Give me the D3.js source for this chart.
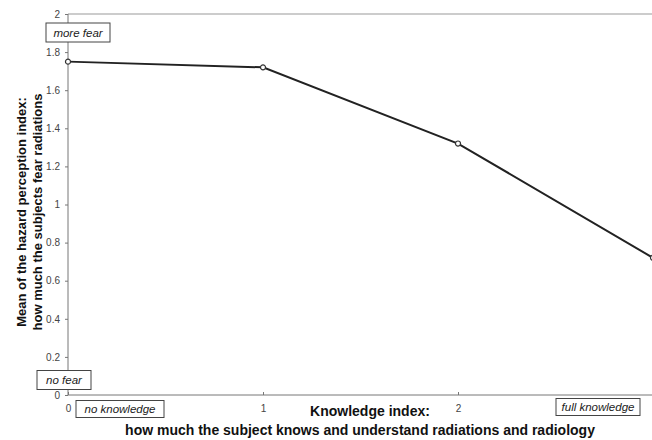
<!DOCTYPE html>
<html><head><meta charset="utf-8">
<script src="https://cdnjs.cloudflare.com/ajax/libs/d3/7.8.5/d3.min.js"></script>
<style>
body{margin:0;background:#fff;}
svg{display:block;font-family:"Liberation Sans",Arial,sans-serif;}
</style></head>
<body><svg id="c" width="652" height="440"></svg>
<script>
const knowledge = [0, 1, 2, 3];
const fearMean = [1.75, 1.72, 1.32, 0.72];
const yTicks = [0, 0.2, 0.4, 0.6, 0.8, 1, 1.2, 1.4, 1.6, 1.8, 2];
const xTicks = [0, 1, 2];
const yTitle = ["Mean of the hazard perception index:", "how much the subjects fear radiations"];
const xTitle = ["Knowledge index:", "how much the subject knows and understand radiations and radiology"];

const svg = d3.select("#c");
const x = d3.scaleLinear().domain([0, 3]).range([68, 653]);
const y = d3.scaleLinear().domain([0, 2]).range([395, 14]);

svg.append("line").attr("x1", 68).attr("x2", 652).attr("y1", y(2)).attr("y2", y(2))
  .attr("stroke", "#999").attr("stroke-width", 1);

const ya = svg.append("g").attr("transform", "translate(68,0)")
  .call(d3.axisLeft(y).tickValues(yTicks).tickSize(3).tickPadding(5).tickFormat(d3.format("~g")));
ya.select(".domain").attr("stroke", "#777").attr("d", `M0,${y(2)}V${y(0)}`);
ya.selectAll(".tick line").attr("stroke", "#777");
ya.selectAll(".tick text").attr("font-size", 10).attr("fill", "#444").attr("font-family", "Liberation Sans, Arial, sans-serif");

const xa = svg.append("g").attr("transform", `translate(0,${y(0)})`)
  .call(d3.axisBottom(x).tickValues(xTicks).tickSize(3).tickPadding(7).tickFormat(d3.format("d")));
xa.select(".domain").attr("stroke", "#777").attr("d", `M68,0H652`);
xa.selectAll(".tick line").attr("stroke", "#777").attr("y1", -3).attr("y2", 0);
xa.selectAll(".tick text").attr("font-size", 10).attr("fill", "#444").attr("font-family", "Liberation Sans, Arial, sans-serif");

const pts = knowledge.map((k, i) => [k, fearMean[i]]);
svg.append("path").datum(pts)
  .attr("d", d3.line().x(d => x(d[0])).y(d => y(d[1])))
  .attr("fill", "none").attr("stroke", "#222").attr("stroke-width", 2);
svg.selectAll("path.m").data(pts).join("path").attr("class", "m")
  .attr("transform", d => `translate(${x(d[0])},${y(d[1])})`)
  .attr("d", d3.symbol(d3.symbolCircle, 20))
  .attr("fill", "#fff").attr("stroke", "#333").attr("stroke-width", 1.2);

function box(cx, cy, w, h, txt) {
  svg.append("rect").attr("x", cx - w / 2).attr("y", cy - h / 2).attr("width", w).attr("height", h)
    .attr("fill", "#fff").attr("stroke", "#444").attr("stroke-width", 1);
  svg.append("text").attr("x", cx).attr("y", cy + 4).attr("text-anchor", "middle")
    .attr("font-size", 11.5).attr("font-style", "italic").attr("fill", "#222").text(txt);
}
box(78, 32.5, 64, 19, "more fear");
box(64, 380, 54, 19, "no fear");
box(120, 409, 88, 17, "no knowledge");
box(598, 407, 84, 17, "full knowledge");

svg.append("g").attr("transform", "translate(26,212) rotate(-90)")
  .selectAll("text").data(yTitle).join("text")
  .attr("x", 0).attr("y", (d, i) => i * 16).attr("text-anchor", "middle")
  .attr("font-size", 13).attr("font-weight", "bold").attr("fill", "#111").text(d => d);

svg.append("text").attr("x", 370).attr("y", 416).attr("text-anchor", "middle")
  .attr("font-size", 14).attr("font-weight", "bold").attr("fill", "#111").text(xTitle[0]);
svg.append("text").attr("x", 360).attr("y", 435).attr("text-anchor", "middle")
  .attr("font-size", 14).attr("font-weight", "bold").attr("fill", "#111").text(xTitle[1]);
</script></body></html>
